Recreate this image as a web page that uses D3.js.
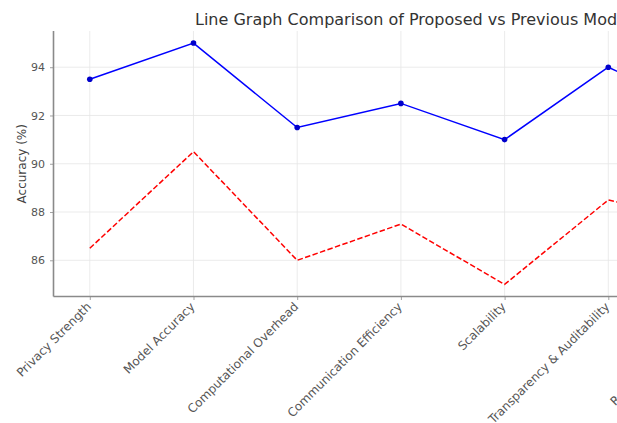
<!DOCTYPE html>
<html>
<head>
<meta charset="utf-8">
<script src="https://cdn.jsdelivr.net/npm/d3@7"></script>
<style>
  html, body { margin: 0; padding: 0; background: #fff; overflow: hidden; }
  svg { display: block; font-family: "DejaVu Sans", sans-serif; }
</style>
</head>
<body>
<svg id="chart" width="617" height="423"></svg>
<script>
// Evaluation criteria on the x axis
const categories = [
  "Privacy Strength",
  "Model Accuracy",
  "Computational Overhead",
  "Communication Efficiency",
  "Scalability",
  "Transparency & Auditability",
  "Regulatory Compliance",
  "Robustness"
];
// Scores of the proposed model (solid blue) and previous models (dashed red)
const proposedScores = [93.5, 95, 91.5, 92.5, 91, 94, 92, 93];
const previousScores = [86.5, 90.5, 86, 87.5, 85, 88.5, 87.5, 86.5];
const yTickValues = [86, 88, 90, 92, 94];
const titleText = "Line Graph Comparison of Proposed vs Previous Models";
const yLabel = "Accuracy (%)";

const svg = d3.select("#chart");
const plotLeft = 53.5, plotRight = 852, plotTop = 31, plotBottom = 296.5;

const x = d3.scalePoint().domain(categories).range([plotLeft, plotRight]).padding(0.35);
const y = d3.scaleLinear().domain([84.5, 95.5]).range([plotBottom, plotTop]);

// grid
const grid = svg.append("g");
grid.selectAll("line.v").data(categories).join("line")
  .attr("x1", d => x(d)).attr("x2", d => x(d))
  .attr("y1", plotTop).attr("y2", plotBottom)
  .attr("stroke", "#e6e6e6").attr("stroke-width", 0.8);
grid.selectAll("line.h").data(yTickValues).join("line")
  .attr("x1", plotLeft).attr("x2", plotRight)
  .attr("y1", d => y(d)).attr("y2", d => y(d))
  .attr("stroke", "#e6e6e6").attr("stroke-width", 0.8);

// axes
const xAxis = svg.append("g").attr("transform", `translate(0,${plotBottom})`)
  .call(d3.axisBottom(x).tickSize(3.5).tickSizeOuter(0).tickFormat(""));
const yAxis = svg.append("g").attr("transform", `translate(${plotLeft},0)`)
  .call(d3.axisLeft(y).tickValues(yTickValues).tickSize(3.5).tickSizeOuter(0).tickPadding(5));
[xAxis, yAxis].forEach(a => {
  a.select(".domain").attr("stroke", "#8a8a8a").attr("stroke-width", 1.6);
  a.selectAll(".tick line").attr("stroke", "#8a8a8a").attr("stroke-width", 0.8);
});
// spines span the full plot area
xAxis.select(".domain").attr("d", `M${plotLeft},0H${plotRight}`);
yAxis.select(".domain").attr("d", `M0,${plotTop}V${plotBottom}`);
yAxis.selectAll(".tick text").attr("fill", "#555").attr("font-size", 11)
  .attr("font-family", "DejaVu Sans, sans-serif");

// rotated category labels
svg.append("g").selectAll("text").data(categories).join("text")
  .attr("transform", d => `translate(${x(d) - 1},${plotBottom + 8}) rotate(-45)`)
  .attr("text-anchor", "end")
  .attr("dy", "0.35em")
  .attr("fill", "#555")
  .attr("font-size", 12)
  .text(d => d);

// lines
const line = d3.line().x((d, i) => x(categories[i])).y(d => y(d));
svg.append("path").datum(previousScores)
  .attr("fill", "none").attr("stroke", "#ff0000").attr("stroke-width", 1.5)
  .attr("stroke-dasharray", "5.5,2.4").attr("d", line);
svg.append("path").datum(proposedScores)
  .attr("fill", "none").attr("stroke", "#0000ff").attr("stroke-width", 1.5)
  .attr("d", line);
svg.append("g").selectAll("circle").data(proposedScores).join("circle")
  .attr("cx", (d, i) => x(categories[i])).attr("cy", d => y(d))
  .attr("r", 2.8).attr("fill", "#0000cc");

// title and y label
svg.append("text").attr("x", 195).attr("y", 25)
  .attr("text-anchor", "start").attr("fill", "#333").attr("font-size", 16)
  .text(titleText);
svg.append("text")
  .attr("transform", `translate(26,${(plotTop + plotBottom) / 2}) rotate(-90)`)
  .attr("text-anchor", "middle").attr("fill", "#444").attr("font-size", 12)
  .text(yLabel);
</script>
</body>
</html>
